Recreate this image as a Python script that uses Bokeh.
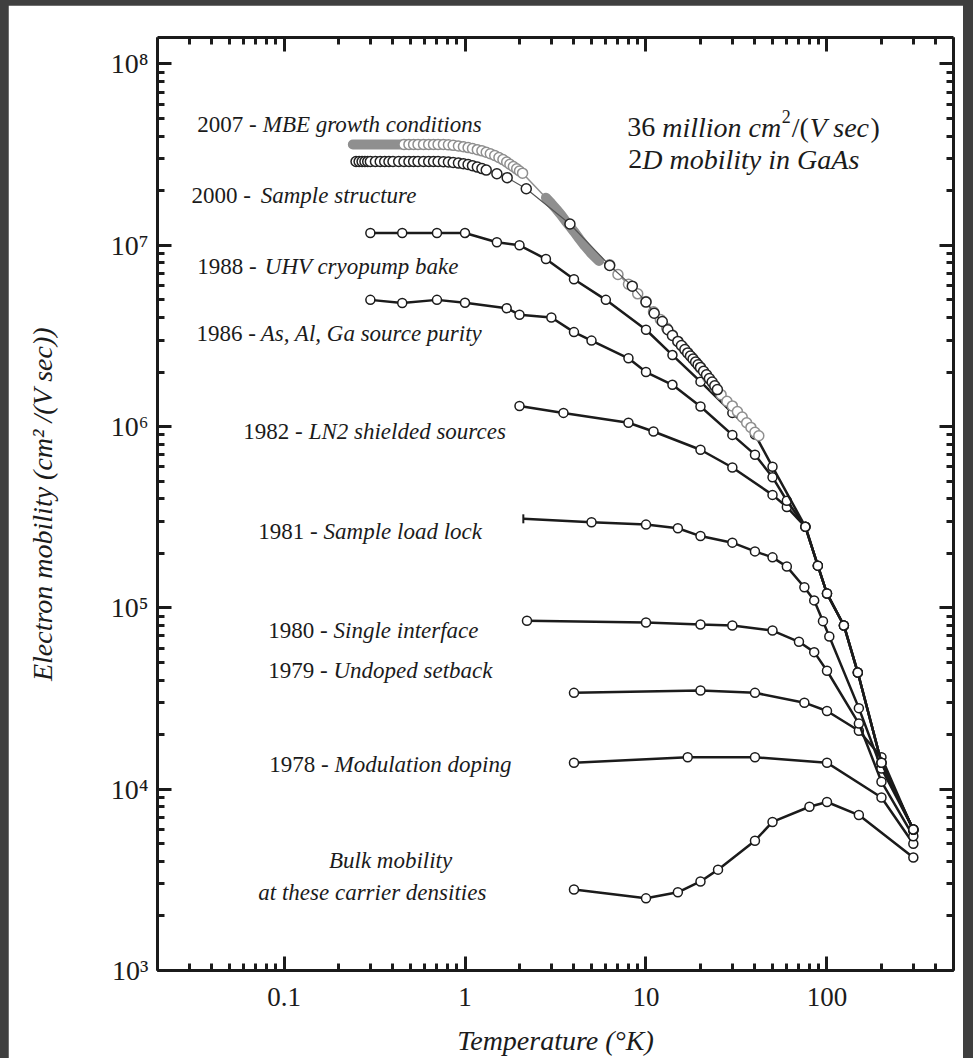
import math
from bokeh.plotting import figure
from bokeh.models import LogAxis, LogTicker, CustomJSTickFormatter, Range1d
from bokeh.core.properties import value
from bokeh.layouts import column
from bokeh.embed import file_html
from bokeh.resources import INLINE

# ---------------- data (Temperature K, mobility cm^2/Vs) ----------------
T_bulk = [4, 10, 15, 20, 25, 40, 50, 80, 100, 150, 300]
mu_bulk = [2800, 2500, 2700, 3100, 3600, 5200, 6600, 8000, 8500, 7200, 4200]

T_1978 = [4, 17, 40, 100, 200, 300]
mu_1978 = [14000, 15000, 15000, 14000, 9000, 5000]

T_1979 = [4, 20, 40, 75, 100, 150, 200, 300]
mu_1979 = [34000, 35000, 34000, 30000, 27000, 21000, 15000, 5900]

T_1980 = [2.2, 10, 20, 30, 50, 70, 85, 100, 150, 200, 300]
mu_1980 = [85000, 83000, 81000, 80000, 75000, 65000, 57000, 45000, 23000, 11000, 5500]

T_1981 = [2.1, 5, 10, 15, 20, 30, 40, 50, 60, 75, 85, 95, 103, 150, 200, 300]
mu_1981 = [310000, 297000, 288000, 275000, 249000, 229000, 205000, 190000, 169000,
           130000, 110000, 84500, 69600, 28000, 13000, 6000]

T_1982 = [2, 3.5, 8, 11, 20, 30, 50, 60, 76, 89, 100, 124, 148, 200, 300]
mu_1982 = [1.3e6, 1.19e6, 1.05e6, 9.4e5, 7.45e5, 5.95e5, 4.2e5, 3.6e5, 2.8e5,
           1.71e5, 1.2e5, 8.0e4, 4.4e4, 1.4e4, 6.0e3]

T_1986 = [0.3, 0.45, 0.7, 1, 1.7, 2, 3, 4, 5, 8, 10, 14, 20, 30, 40, 50, 60, 76,
          89, 100, 124, 148, 200, 300]
mu_1986 = [5.0e6, 4.8e6, 5.0e6, 4.82e6, 4.5e6, 4.14e6, 4.0e6, 3.32e6, 2.98e6, 2.38e6,
           2.0e6, 1.7e6, 1.29e6, 9.0e5, 7.0e5, 5.26e5, 3.9e5, 2.8e5,
           1.71e5, 1.2e5, 8.0e4, 4.4e4, 1.4e4, 6.0e3]

T_1988 = [0.3, 0.45, 0.7, 1, 1.5, 2, 2.8, 4, 6, 10, 14, 20, 30, 40, 50, 76,
          89, 100, 124, 148, 200, 300]
mu_1988 = [1.17e7, 1.17e7, 1.17e7, 1.17e7, 1.04e7, 1.0e7, 8.4e6, 6.5e6, 5.0e6, 3.42e6,
           2.48e6, 1.77e6, 1.19e6, 9.05e5, 6.0e5, 2.8e5,
           1.71e5, 1.2e5, 8.0e4, 4.4e4, 1.4e4, 6.0e3]

T_2000 = [0.25, 0.26, 0.27, 0.28, 0.29, 0.30, 0.32, 0.34, 0.36, 0.38, 0.40, 0.43, 0.46,
          0.49, 0.52, 0.55, 0.59, 0.63, 0.67, 0.71, 0.76, 0.81, 0.86, 0.92, 0.98, 1.04,
          1.1, 1.17, 1.24, 1.31, 1.5, 1.71, 2.18, 3.8, 6.3, 8.4, 10, 11.1, 12.3, 13.2,
          14, 15, 15.7, 16.4, 17, 17.6, 18.2, 18.8, 19.4, 20, 20.8, 21.6, 22.4, 23.2,
          24, 24.8]
mu_2000 = [2.9e7, 2.9e7, 2.9e7, 2.9e7, 2.9e7, 2.9e7, 2.9e7, 2.9e7, 2.9e7, 2.9e7, 2.9e7,
           2.9e7, 2.9e7, 2.9e7, 2.9e7, 2.9e7, 2.9e7, 2.9e7, 2.9e7, 2.9e7, 2.89e7, 2.88e7,
           2.86e7, 2.84e7, 2.82e7, 2.79e7, 2.75e7, 2.7e7, 2.65e7, 2.6e7, 2.48e7, 2.36e7,
           2.05e7, 1.31e7, 7.74e6, 5.95e6, 4.86e6, 4.22e6, 3.8e6, 3.42e6,
           3.18e6, 2.95e6, 2.8e6, 2.66e6, 2.55e6, 2.45e6, 2.36e6, 2.27e6, 2.19e6, 2.12e6,
           2.02e6, 1.93e6, 1.84e6, 1.76e6, 1.68e6, 1.6e6]

T_2007 = [0.24, 0.25, 0.26, 0.27, 0.28, 0.29, 0.30, 0.32, 0.34, 0.36, 0.38, 0.40, 0.43,
          0.46, 0.49, 0.52, 0.55, 0.59, 0.63, 0.67, 0.71, 0.76, 0.81, 0.86, 0.92, 0.98,
          1.04, 1.1, 1.17, 1.24, 1.31, 1.38, 1.46, 1.54, 1.62, 1.7, 1.77, 1.85, 1.93,
          2.0, 2.08, 2.8, 3.0, 3.2, 3.4, 3.6, 3.8, 4.0, 4.3, 4.6, 5.0, 5.5, 6.3, 7, 8,
          9, 10, 11, 12, 13, 14, 15, 16, 17, 18, 19, 20, 22, 24, 26, 28, 30, 32, 34, 36,
          38, 40, 42]
mu_2007 = [3.6e7, 3.6e7, 3.6e7, 3.6e7, 3.6e7, 3.6e7, 3.6e7, 3.6e7, 3.6e7, 3.6e7, 3.6e7,
           3.6e7, 3.6e7, 3.6e7, 3.6e7, 3.6e7, 3.6e7, 3.6e7, 3.6e7, 3.6e7, 3.6e7, 3.6e7,
           3.58e7, 3.56e7, 3.53e7, 3.5e7, 3.46e7, 3.42e7, 3.37e7, 3.32e7, 3.26e7, 3.2e7,
           3.13e7, 3.05e7, 2.97e7, 2.88e7, 2.8e7, 2.72e7, 2.64e7, 2.57e7, 2.5e7,
           1.83e7, 1.7e7, 1.58e7, 1.47e7, 1.36e7, 1.27e7, 1.19e7, 1.08e7, 9.9e6, 9.0e6,
           8.2e6, 7.8e6, 6.9e6, 6.1e6, 5.4e6, 4.9e6, 4.3e6, 3.9e6, 3.5e6, 3.2e6, 2.95e6,
           2.75e6, 2.55e6, 2.4e6, 2.25e6, 2.1e6, 1.85e6, 1.65e6, 1.5e6, 1.38e6, 1.3e6,
           1.21e6, 1.13e6, 1.05e6, 9.9e5, 9.3e5, 8.9e5]

years = ["2007 -", "2000 -", "1988 -", "1986 -", "1982 -", "1981 -", "1980 -", "1979 -", "1978 -"]
descriptions = ["MBE growth conditions", "Sample structure", "UHV cryopump bake",
                "As, Al, Ga source purity", "LN2 shielded sources", "Sample load lock",
                "Single interface", "Undoped setback", "Modulation doping"]
bulk_lines = ["Bulk mobility", "at these carrier densities"]

# --------------- label anchor positions (data coordinates) ---------------
year_x = [0.0707, 0.0656, 0.0707, 0.0699, 0.1267, 0.1532, 0.174, 0.174, 0.1762]
desc_x = [0.0763, 0.0744, 0.0783, 0.0744, 0.1368, 0.1654, 0.1877, 0.1877, 0.1901]
lab_y = [4.64e7, 1.883e7, 7.64e6, 3.26e6, 9.4e5, 2.64e5, 7.5e4, 4.5e4, 1.36e4]
bulk_x = [0.388, 0.3075]
bulk_y = [4.04e3, 2.69e3]

SERIF = value("Liberation Serif")
INK = "#1b1b1b"

p = figure(frame_width=796, frame_height=933, x_axis_type="log", y_axis_type="log",
           x_range=Range1d(0.02, 500), y_range=Range1d(1e3, 1.4e8),
           output_backend="svg", toolbar_location=None,
           min_border_left=149, min_border_right=10, min_border_top=32,
           min_border_bottom=88, background_fill_color="white",
           border_fill_color="white")
p.grid.visible = False
p.outline_line_color = None

xa = p.below[0]
ya = p.left[0]
top_ax = LogAxis()
right_ax = LogAxis()
p.add_layout(top_ax, "above")
p.add_layout(right_ax, "right")

for ax in [xa, ya, top_ax, right_ax]:
    ax.ticker = LogTicker(num_minor_ticks=10)
    ax.axis_line_width = 3
    ax.axis_line_color = INK
    ax.major_tick_in = 14
    ax.major_tick_out = 0
    ax.minor_tick_in = 7
    ax.minor_tick_out = 0
    ax.major_tick_line_width = 3
    ax.minor_tick_line_width = 3
    ax.major_tick_line_color = INK
    ax.minor_tick_line_color = INK
    ax.major_label_text_font = "Liberation Serif"
    ax.major_label_text_color = INK

for ax in [top_ax, right_ax]:
    ax.formatter = CustomJSTickFormatter(code="return '';")
    ax.major_label_standoff = 0
    ax.major_label_text_font_size = "1px"

xa.formatter = CustomJSTickFormatter(code="""
const e = Math.round(Math.log10(tick));
return e >= 0 ? String(Math.pow(10, e)) : Math.pow(10, e).toFixed(-e);
""")
xa.major_label_text_font_size = "27px"
xa.major_label_standoff = 17
xa.axis_label = "Temperature (°K)"
xa.axis_label_text_font = "Liberation Serif"
xa.axis_label_text_font_style = "italic"
xa.axis_label_text_font_size = "28px"
xa.axis_label_text_color = INK
xa.axis_label_standoff = 16

ya.formatter = CustomJSTickFormatter(code="""
const sup = {'0':'\u2070','1':'\u00b9','2':'\u00b2','3':'\u00b3','4':'\u2074',
             '5':'\u2075','6':'\u2076','7':'\u2077','8':'\u2078','9':'\u2079','-':'\u207b'};
const e = Math.round(Math.log10(tick));
return '10' + String(e).split('').map(c => sup[c]).join('');
""")
ya.major_label_text_font_size = "28px"
ya.major_label_standoff = 9
ya.axis_label = "Electron mobility (cm\u00b2 /(V sec))"
ya.axis_label_text_font = "Liberation Serif"
ya.axis_label_text_font_style = "italic"
ya.axis_label_text_font_size = "28px"
ya.axis_label_text_color = INK
ya.axis_label_standoff = 50


def series(T, mu, bar_start=False):
    p.line(T, mu, line_color=INK, line_width=2.5)
    if bar_start:
        p.scatter(T[:1], mu[:1], marker="dash", angle=math.pi / 2, size=9,
                  line_color=INK, line_width=2)
        Ts, ms = T[1:], mu[1:]
    else:
        Ts, ms = T, mu
    p.scatter(Ts, ms, size=9, marker="circle", fill_color="white",
              line_color=INK, line_width=1.5)


series(T_bulk, mu_bulk)
series(T_1978, mu_1978)
series(T_1979, mu_1979)
series(T_1980, mu_1980)
series(T_1981, mu_1981, bar_start=True)
series(T_1982, mu_1982)
series(T_1986, mu_1986)
series(T_1988, mu_1988)

# 2007 series (grey)
GREY = "#8f8f8f"
p.line(T_2007, mu_2007, line_color=GREY, line_width=1.5)
band1 = [(t, m) for t, m in zip(T_2007, mu_2007) if t <= 2.08]
band2 = [(t, m) for t, m in zip(T_2007, mu_2007) if 2.8 <= t <= 5.5]
for band in (band1, band2):
    p.line([b[0] for b in band], [b[1] for b in band], line_color=GREY,
           line_width=10, line_cap="round")
pts = [(t, m) for t, m in zip(T_2007, mu_2007) if 0.46 <= t <= 2.08 or t >= 6]
p.scatter([q[0] for q in pts], [q[1] for q in pts], size=10, marker="circle",
          fill_color="white", line_color=GREY, line_width=1.5)

# 2000 series (black)
p.line(T_2000, mu_2000, line_color="#555555", line_width=1.2)
p.scatter(T_2000, mu_2000, size=10, marker="circle", fill_color="white",
          line_color="#222222", line_width=1.5)

# --------------- labels ---------------
p.text(x=year_x, y=lab_y, text=years, text_font=SERIF, text_font_size="23px",
       text_align="right", text_baseline="alphabetic", text_color=INK)
p.text(x=desc_x, y=lab_y, text=descriptions, text_font=SERIF, text_font_size="23px",
       text_font_style="italic", text_align="left", text_baseline="alphabetic",
       text_color=INK)
p.text(x=bulk_x, y=bulk_y, text=bulk_lines, text_font=SERIF, text_font_size="23px",
       text_font_style="italic", text_align="center", text_baseline="alphabetic",
       text_color=INK)

# headline annotation
head_up_x = [7.89, 63.9, 173.8, 7.99]
head_up_y = [4.47e7, 4.47e7, 4.47e7, 2.975e7]
head_up_t = ["36", "/(", ")", "2"]
head_it_x = [12.29, 80.2, 9.54]
head_it_y = [4.47e7, 4.47e7, 2.975e7]
head_it_t = ["million cm", "V sec", "D mobility in GaAs"]
p.text(x=head_up_x, y=head_up_y, text=head_up_t, text_font=SERIF, text_font_size="28px",
       text_align="left", text_baseline="alphabetic", text_color=INK)
p.text(x=head_it_x, y=head_it_y, text=head_it_t, text_font=SERIF, text_font_size="28px",
       text_font_style="italic", text_align="left", text_baseline="alphabetic",
       text_color=INK)
p.text(x=[56.2], y=[5.13e7], text=["2"], text_font=SERIF, text_font_size="18px",
       text_align="left", text_baseline="alphabetic", text_color=INK)

root = column(p, width=973, height=1058,
              styles={"background-color": "#3f3f3f", "padding-left": "8px",
                      "padding-top": "5px", "box-sizing": "border-box"})

with open("out.html", "w", encoding="utf-8") as f:
    f.write(file_html(root, INLINE))
